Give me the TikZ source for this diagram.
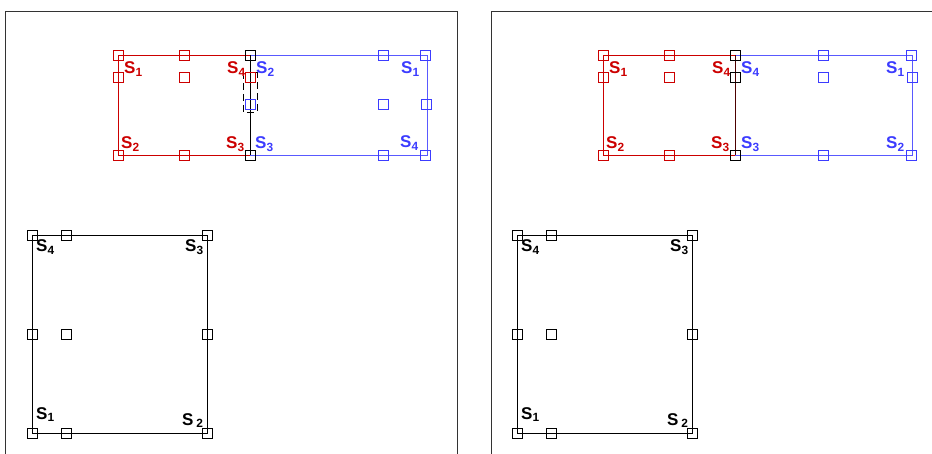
\documentclass[tikz,border=0pt]{standalone}
\usepackage{fontspec}
\setmainfont{Liberation Sans}

\definecolor{figred}{RGB}{204,0,0}
\definecolor{figblue}{RGB}{60,60,255}
\tikzset{
  handle/.style={draw,rectangle,minimum size=10pt,inner sep=0pt,line width=0.7pt},
  redhandle/.style={handle,draw=figred},
  bluehandle/.style={handle,draw=figblue},
  blackhandle/.style={handle,draw=black},
  slabel/.style={font=\bfseries\fontsize{17}{19}\selectfont,inner sep=0pt,anchor=base west},
  frame/.style={line width=0.8pt,draw=black!80},
}
\newcommand{\slab}[1]{S\textsubscript{#1}}

\begin{document}
\begin{tikzpicture}[x=1pt,y=-1pt]
\useasboundingbox (0,0) rectangle (932,454);

% panel frames
\coordinate (fa1) at (5,454); \coordinate (fa2) at (5,11);
\coordinate (fa3) at (457,11); \coordinate (fa4) at (457,454);
\coordinate (fb1) at (491,454); \coordinate (fb2) at (491,11);
\coordinate (fb3) at (932,11);
\draw[frame] (fa1) -- (fa2) -- (fa3) -- (fa4);
\draw[frame] (fb1) -- (fb2) -- (fb3);

% left panel, upper pair
\coordinate (ar1) at (118,55); \coordinate (ar2) at (250,155);
\coordinate (ab1) at (250,55); \coordinate (ab2) at (427,155);
\draw[figred, line width=0.9pt] (ar1) rectangle (ar2);
\draw[figblue!85, line width=0.9pt] (ab1) rectangle (ab2);
\draw[black, line width=0.9pt] (ab1) -- (250,155);
\coordinate (ad1) at (243,72); \coordinate (ad2) at (257,112);
\draw[line width=0.8pt, dash pattern=on 7pt off 4pt] (ad1) rectangle (ad2);

\node[redhandle] (ar-a) at (118,55) {};
\node[redhandle] (ar-b) at (184,55) {};
\node[redhandle] (ar-c) at (118,77) {};
\node[redhandle] (ar-d) at (184,77) {};
\node[redhandle] (ar-e) at (250,77) {};
\node[redhandle] (ar-f) at (118,155) {};
\node[redhandle] (ar-g) at (184,155) {};
\node[blackhandle] (ak-a) at (250,55) {};
\node[blackhandle] (ak-b) at (250,155) {};
\node[bluehandle] (ab-a) at (383,55) {};
\node[bluehandle] (ab-b) at (425,55) {};
\node[bluehandle] (ab-c) at (250,104) {};
\node[bluehandle] (ab-d) at (383,104) {};
\node[bluehandle] (ab-e) at (426,104) {};
\node[bluehandle] (ab-f) at (383,155) {};
\node[bluehandle] (ab-g) at (425,155) {};

\node[slabel, figred] (arl1) at (124,74) {\slab{1}};
\node[slabel, figred] (arl4) at (227,74) {\slab{4}};
\node[slabel, figred] (arl2) at (121,149) {\slab{2}};
\node[slabel, figred] (arl3) at (226,149) {\slab{3}};
\node[slabel, figblue] (abl2) at (256,74) {\slab{2}};
\node[slabel, figblue] (abl1) at (401,74) {\slab{1}};
\node[slabel, figblue] (abl3) at (255,149) {\slab{3}};
\node[slabel, figblue] (abl4) at (400,148) {\slab{4}};

% right panel, upper pair
\coordinate (br1) at (603,55); \coordinate (br2) at (735,155);
\coordinate (bb1) at (735,55); \coordinate (bb2) at (912,155);
\draw[figred, line width=0.9pt] (br1) rectangle (br2);
\draw[figblue!85, line width=0.9pt] (bb1) rectangle (bb2);
\draw[red!30!black, line width=0.9pt] (bb1) -- (735,155);

\node[redhandle] (br-a) at (603,55) {};
\node[redhandle] (br-b) at (669,55) {};
\node[redhandle] (br-c) at (603,77) {};
\node[redhandle] (br-d) at (669,77) {};
\node[redhandle] (br-f) at (603,155) {};
\node[redhandle] (br-g) at (669,155) {};
\node[blackhandle] (bk-a) at (735,55) {};
\node[blackhandle] (bk-b) at (735,77) {};
\node[blackhandle] (bk-c) at (735,155) {};
\node[bluehandle] (bb-a) at (823,55) {};
\node[bluehandle] (bb-b) at (911,55) {};
\node[bluehandle] (bb-c) at (823,77) {};
\node[bluehandle] (bb-d) at (912,77) {};
\node[bluehandle] (bb-e) at (823,155) {};
\node[bluehandle] (bb-f) at (911,155) {};

\node[slabel, figred] (brl1) at (609,74) {\slab{1}};
\node[slabel, figred] (brl4) at (712,74) {\slab{4}};
\node[slabel, figred] (brl2) at (606,149) {\slab{2}};
\node[slabel, figred] (brl3) at (711,149) {\slab{3}};
\node[slabel, figblue] (bbl4) at (741,74) {\slab{4}};
\node[slabel, figblue] (bbl1) at (886,74) {\slab{1}};
\node[slabel, figblue] (bbl3) at (741,149) {\slab{3}};
\node[slabel, figblue] (bbl2) at (886,149) {\slab{2}};

% lower square, same in both panels
\foreach \dx/\p in {0/a,485/b} {
  \begin{scope}[xshift=\dx pt]
    \coordinate (\p q1) at (32,235); \coordinate (\p q2) at (207,433);
    \draw[black, line width=0.9pt] (\p q1) rectangle (\p q2);
    \node[blackhandle] (\p q-a) at (32,235) {};
    \node[blackhandle] (\p q-b) at (66,235) {};
    \node[blackhandle] (\p q-c) at (207,235) {};
    \node[blackhandle] (\p q-d) at (32,334) {};
    \node[blackhandle] (\p q-e) at (66,334) {};
    \node[blackhandle] (\p q-f) at (207,334) {};
    \node[blackhandle] (\p q-g) at (32,433) {};
    \node[blackhandle] (\p q-h) at (66,433) {};
    \node[blackhandle] (\p q-i) at (207,433) {};
    \node[slabel] (\p ql4) at (36,252) {\slab{4}};
    \node[slabel] (\p ql3) at (185,252) {\slab{3}};
    \node[slabel] (\p ql1) at (36,419) {\slab{1}};
    \node[slabel] (\p ql2) at (182,425) {S\,\textsubscript{2}};
  \end{scope}
}
\end{tikzpicture}
\end{document}
